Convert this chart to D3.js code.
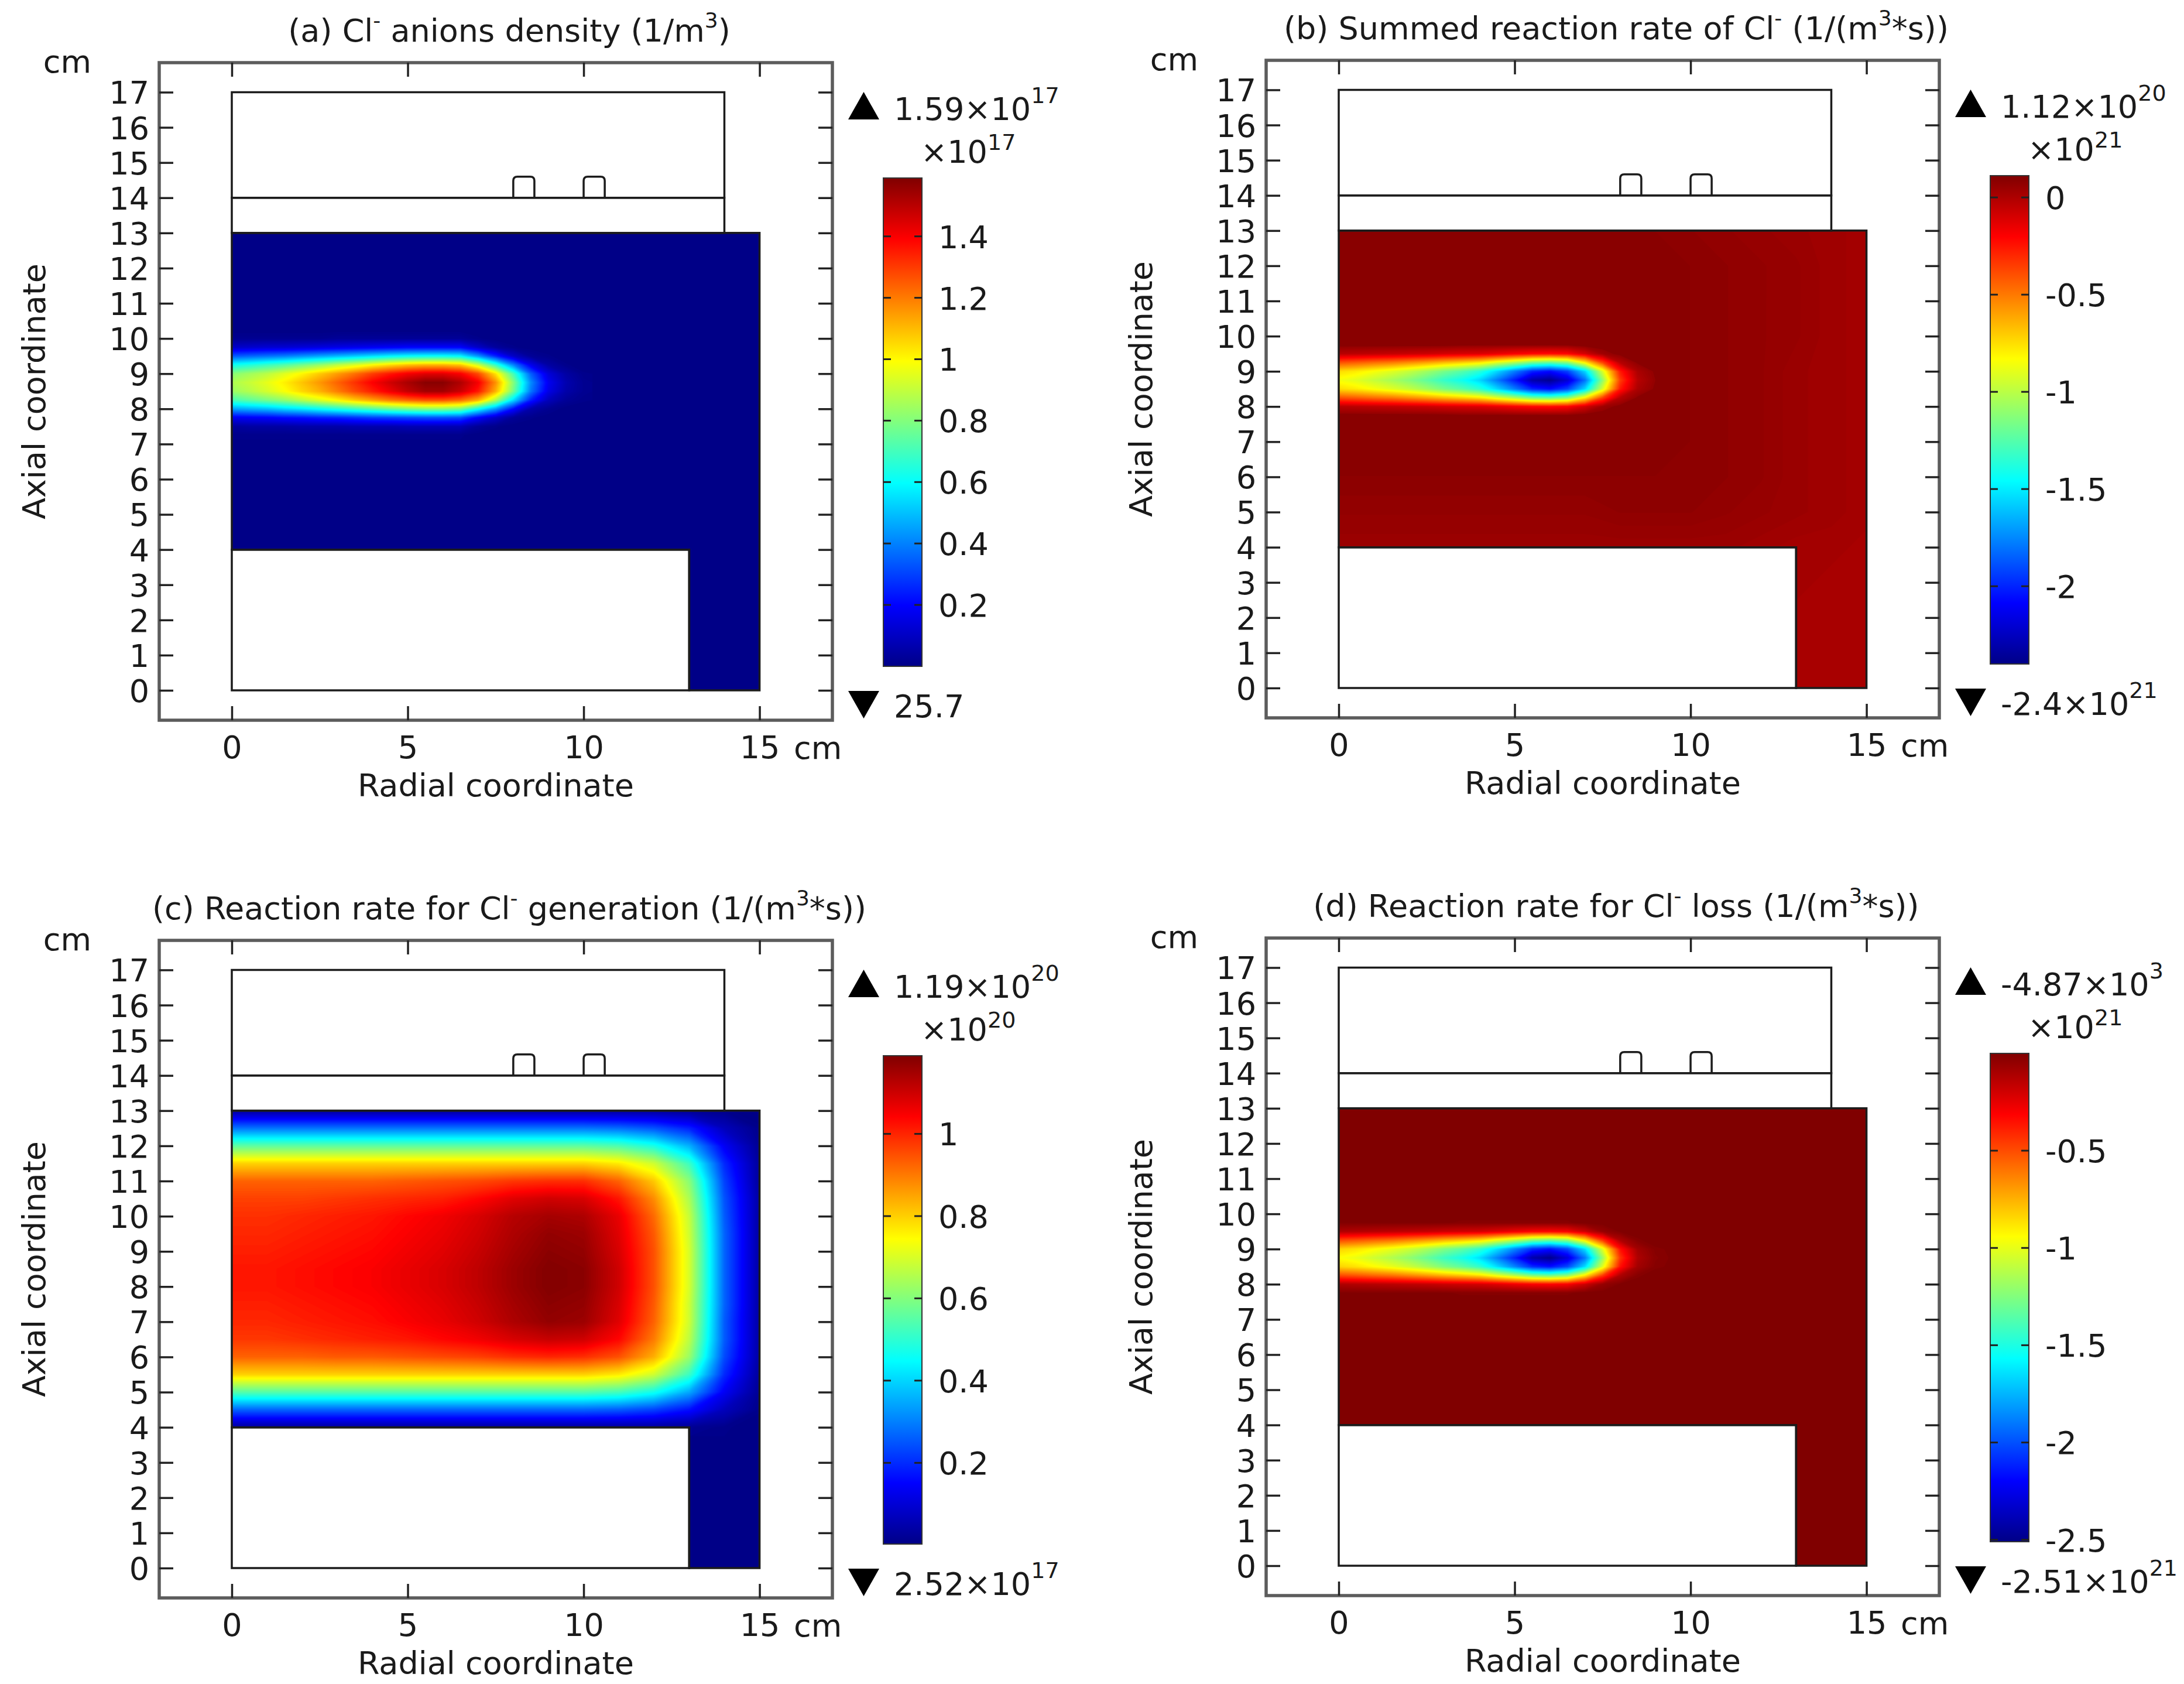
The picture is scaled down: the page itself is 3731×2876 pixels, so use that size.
<!DOCTYPE html>
<html>
<head>
<meta charset="utf-8">
<script src="https://cdn.jsdelivr.net/npm/d3@7"></script>
<style>
  body { margin: 0; background: #fff; }
  svg text { font-family: "DejaVu Sans", sans-serif; fill: #1a1a1a; }
</style>
</head>
<body>
<script>
// ---- values ----
var svgWidth = 3731;
var svgHeight = 2876;

// axes (cm)
var xTicks = [0, 5, 10, 15];
var yTicks = [0, 1, 2, 3, 4, 5, 6, 7, 8, 9, 10, 11, 12, 13, 14, 15, 16, 17];
var frameX = [-2.063, 17.07];
var frameY = [-0.849, 17.84];

// titles, split into [text, superscript?] pieces
var titles = [
  [["(a) Cl"], ["-", 1], [" anions density (1/m"], ["3", 1], [")"]],
  [["(b) Summed reaction rate of Cl"], ["-", 1], [" (1/(m"], ["3", 1], ["*s))"]],
  [["(c) Reaction rate for Cl"], ["-", 1], [" generation (1/(m"], ["3", 1], ["*s))"]],
  [["(d) Reaction rate for Cl"], ["-", 1], [" loss (1/(m"], ["3", 1], ["*s))"]]
];

// colour bars (values in units of the bar's multiplier)
var cbMin = [2.57e-16, -2.4, 0.00252, -2.51];
var cbMax = [1.59, 0.112, 1.19, -4.87e-18];
var cbTicks = [
  [1.4, 1.2, 1, 0.8, 0.6, 0.4, 0.2],
  [0, -0.5, -1, -1.5, -2],
  [1, 0.8, 0.6, 0.4, 0.2],
  [-0.5, -1, -1.5, -2, -2.5]
];
var cbMaxLabel = [[["1.59×10"], ["17", 1]], [["1.12×10"], ["20", 1]], [["1.19×10"], ["20", 1]], [["-4.87×10"], ["3", 1]]];
var cbUnitLabel = [[["×10"], ["17", 1]], [["×10"], ["21", 1]], [["×10"], ["20", 1]], [["×10"], ["21", 1]]];
var cbMinLabel = [[["25.7"]], [["-2.4×10"], ["21", 1]], [["2.52×10"], ["17", 1]], [["-2.51×10"], ["21", 1]]];

// reactor geometry (cm)
var outlineRects = [[0, 14, 14, 17], [0, 13, 14, 14], [0, 0, 13, 4]];
var bumps = [[8.0, 14, 8.6, 14.6], [10.0, 14, 10.6, 14.6]];
var plasmaDomain = [[0, 13], [15, 13], [15, 0], [13, 0], [13, 4], [0, 4]];

// field samples around the Cl- blob (a, b, d)
var blobX = [0, 0.5, 1, 1.5, 2, 2.5, 3, 3.5, 4, 4.5, 5, 5.5, 6, 6.5, 7, 7.5, 8, 8.5, 9, 9.5, 10];
var blobY = [10.25, 10, 9.75, 9.5, 9.25, 9, 8.75, 8.5, 8.25, 8, 7.75, 7.5, 7.25];

// (a) Cl- density, x1e17 1/m3
var anionGrid = [
  [0, 0, 0, 0, 0, 0, 0, 0, 0, 0, 0, 0, 0, 0, 0, 0, 0, 0, 0, 0, 0],
  [.02, .02, .02, .02, .02, .02, .03, .03, .03, .03, .03, .03, .03, .03, .01, 0, 0, 0, 0, 0, 0],
  [.11, .12, .13, .13, .14, .15, .16, .17, .18, .19, .20, .20, .20, .20, .11, .04, .01, 0, 0, 0, 0],
  [.34, .36, .38, .40, .43, .46, .49, .52, .55, .58, .60, .61, .61, .59, .44, .26, .11, .03, .01, 0, 0],
  [.62, .65, .69, .73, .78, .83, .89, .94, 1.00, 1.05, 1.09, 1.11, 1.11, 1.08, .92, .68, .41, .17, .05, .01, 0],
  [.81, .85, .89, .95, 1.01, 1.08, 1.15, 1.22, 1.30, 1.36, 1.41, 1.44, 1.44, 1.40, 1.28, 1.04, .71, .35, .14, .05, .01],
  [.87, .91, .96, 1.02, 1.09, 1.16, 1.24, 1.32, 1.40, 1.47, 1.53, 1.58, 1.58, 1.52, 1.41, 1.17, .81, .42, .18, .07, .02],
  [.84, .88, .93, .99, 1.06, 1.12, 1.20, 1.28, 1.35, 1.42, 1.49, 1.54, 1.54, 1.48, 1.36, 1.12, .78, .39, .16, .06, .02],
  [.71, .75, .79, .83, .89, .95, 1.01, 1.08, 1.14, 1.20, 1.24, 1.27, 1.27, 1.23, 1.12, .87, .55, .25, .09, .03, .01],
  [.46, .48, .50, .54, .57, .61, .65, .69, .73, .77, .80, .82, .82, .79, .62, .44, .22, .06, .02, 0, 0],
  [.18, .19, .20, .22, .23, .25, .26, .28, .30, .31, .32, .33, .33, .32, .20, .11, .03, .01, 0, 0, 0],
  [.04, .05, .05, .05, .06, .06, .06, .07, .07, .07, .08, .08, .08, .08, .03, .01, 0, 0, 0, 0, 0],
  [.01, .01, .01, .01, .01, .01, .01, .01, .01, .01, .01, .01, .01, .01, 0, 0, 0, 0, 0, 0, 0]
];

// (b) summed rate near the blob, x1e21
var summedGrid = [
  [.09, .09, .09, .09, .09, .09, .09, .09, .09, .09, .09, .09, .09, .09, .09, .09, .09, .09, .09, .09, .09],
  [.09, .09, .09, .09, .09, .09, .09, .09, .09, .09, .09, .09, .09, .09, .09, .09, .09, .09, .09, .09, .09],
  [.08, .08, .08, .08, .08, .08, .08, .07, .07, .07, .07, .07, .07, .07, .09, .09, .09, .09, .09, .09, .09],
  [-.03, -.04, -.05, -.06, -.07, -.08, -.10, -.11, -.12, -.15, -.19, -.22, -.23, -.21, -.10, .03, .08, .09, .09, .09, .09],
  [-.41, -.44, -.48, -.51, -.56, -.61, -.67, -.72, -.78, -.91, -1.03, -1.17, -1.21, -1.13, -.80, -.37, -.03, .07, .09, .09, .09],
  [-.75, -.79, -.85, -.91, -.98, -1.07, -1.17, -1.25, -1.36, -1.56, -1.78, -2.00, -2.07, -1.93, -1.56, -.93, -.27, 0, .07, .08, .09],
  [-.86, -.91, -.98, -1.05, -1.13, -1.23, -1.34, -1.43, -1.56, -1.79, -2.03, -2.31, -2.38, -2.21, -1.81, -1.11, -.36, -.03, .06, .08, .09],
  [-.75, -.79, -.85, -.91, -.98, -1.07, -1.17, -1.25, -1.36, -1.56, -1.78, -2.00, -2.07, -1.93, -1.56, -.93, -.27, 0, .07, .08, .09],
  [-.41, -.44, -.48, -.51, -.56, -.61, -.67, -.72, -.78, -.91, -1.03, -1.17, -1.21, -1.13, -.80, -.37, -.03, .07, .09, .09, .09],
  [-.03, -.04, -.05, -.06, -.07, -.08, -.10, -.11, -.12, -.15, -.19, -.22, -.23, -.21, -.10, .03, .08, .09, .09, .09, .09],
  [.08, .08, .08, .08, .08, .08, .08, .07, .07, .07, .07, .07, .07, .07, .09, .09, .09, .09, .09, .09, .09],
  [.09, .09, .09, .09, .09, .09, .09, .09, .09, .09, .09, .09, .09, .09, .09, .09, .09, .09, .09, .09, .09],
  [.09, .09, .09, .09, .09, .09, .09, .09, .09, .09, .09, .09, .09, .09, .09, .09, .09, .09, .09, .09, .09]
];

// (b) summed rate, background over the whole domain, x1e21
var fullX = [0, 1, 2, 3, 4, 5, 6, 7, 8, 9, 10, 11, 12, 13, 14, 15];
var summedBaseY = [13, 12, 11, 10, 9, 8, 7, 6, 5, 4, 3, 2, 1, 0];
var summedBaseGrid = [
  [.09, .09, .09, .09, .09, .09, .09, .09, .09, .09, .08, .07, .06, .05, .04, .03],
  [.10, .10, .10, .10, .10, .10, .10, .10, .10, .10, .09, .08, .07, .06, .04, .03],
  [.10, .10, .10, .10, .10, .10, .10, .10, .10, .10, .09, .08, .07, .06, .04, .03],
  [.10, .10, .10, .10, .10, .10, .10, .10, .10, .10, .09, .08, .07, .06, .04, .03],
  [.10, .10, .10, .10, .10, .10, .10, .10, .10, .10, .09, .08, .07, .05, .04, .03],
  [.10, .10, .10, .10, .10, .10, .10, .10, .10, .10, .09, .08, .07, .05, .04, .03],
  [.10, .10, .10, .10, .10, .10, .10, .10, .10, .10, .09, .08, .07, .05, .04, .03],
  [.09, .09, .09, .09, .09, .09, .09, .09, .09, .09, .09, .08, .07, .05, .04, .03],
  [.07, .07, .07, .07, .07, .07, .07, .07, .08, .08, .08, .07, .06, .05, .04, .03],
  [.05, .05, .05, .05, .05, .05, .05, .05, .05, .05, .05, .05, .04, .03, .03, .02],
  [.04, .04, .04, .04, .04, .04, .04, .04, .04, .04, .04, .04, .03, .03, .02, .02],
  [.04, .04, .04, .04, .04, .04, .04, .04, .04, .04, .04, .04, .03, .02, .02, .02],
  [.04, .04, .04, .04, .04, .04, .04, .04, .04, .04, .04, .04, .03, .02, .02, .02],
  [.04, .04, .04, .04, .04, .04, .04, .04, .04, .04, .04, .04, .03, .02, .02, .01]
];

// (c) generation rate, x1e20
var genY = [13, 12.5, 12, 11.5, 11, 10.5, 10, 9.5, 9, 8.5, 8, 7.5, 7, 6.5, 6, 5.5, 5, 4.5, 4];
var genGrid = [
  [.03, .03, .03, .03, .03, .03, .03, .03, .03, .03, .03, .03, .03, .02, .01, 0],
  [.29, .29, .29, .29, .29, .29, .29, .29, .29, .29, .29, .28, .25, .19, .07, .01],
  [.56, .56, .56, .56, .56, .56, .56, .56, .56, .56, .56, .54, .48, .36, .14, .02],
  [.80, .80, .80, .80, .80, .80, .80, .80, .80, .80, .80, .77, .69, .52, .20, .03],
  [.93, .93, .93, .93, .93, .94, .95, .96, .98, .99, .99, .93, .81, .61, .23, .03],
  [.97, .97, .97, .98, .99, 1.00, 1.01, 1.04, 1.08, 1.10, 1.09, 1.02, .88, .65, .25, .04],
  [.99, .99, 1.00, 1.01, 1.02, 1.04, 1.06, 1.09, 1.13, 1.15, 1.14, 1.07, .92, .68, .26, .04],
  [1.00, 1.00, 1.01, 1.02, 1.03, 1.05, 1.07, 1.10, 1.14, 1.17, 1.16, 1.08, .94, .69, .27, .04],
  [1.01, 1.01, 1.02, 1.03, 1.04, 1.06, 1.08, 1.11, 1.15, 1.18, 1.17, 1.09, .95, .70, .27, .04],
  [1.02, 1.02, 1.03, 1.04, 1.05, 1.07, 1.09, 1.12, 1.16, 1.19, 1.18, 1.10, .95, .70, .27, .04],
  [1.02, 1.02, 1.03, 1.04, 1.05, 1.07, 1.09, 1.12, 1.16, 1.19, 1.18, 1.10, .95, .70, .27, .04],
  [1.01, 1.01, 1.02, 1.03, 1.04, 1.06, 1.08, 1.11, 1.15, 1.18, 1.17, 1.09, .94, .69, .27, .04],
  [1.00, 1.00, 1.01, 1.02, 1.03, 1.05, 1.07, 1.10, 1.14, 1.17, 1.16, 1.08, .93, .69, .26, .04],
  [.98, .98, .99, 1.00, 1.01, 1.02, 1.04, 1.06, 1.09, 1.11, 1.10, 1.04, .90, .67, .26, .04],
  [.93, .93, .93, .94, .94, .95, .96, .97, .99, 1.00, .99, .95, .84, .63, .24, .04],
  [.80, .80, .80, .80, .80, .80, .80, .80, .80, .80, .80, .77, .69, .52, .20, .03],
  [.55, .55, .55, .55, .55, .55, .55, .55, .55, .55, .55, .53, .47, .35, .14, .02],
  [.27, .27, .27, .27, .27, .27, .27, .27, .27, .27, .27, .26, .23, .17, .07, .01],
  [.03, .03, .03, .03, .03, .03, .03, .03, .03, .03, .03, .03, .03, .02, .01, 0]
];

// (d) loss rate, x1e21
var lossGrid = [
  [0, 0, 0, 0, 0, 0, 0, 0, 0, 0, 0, 0, 0, 0, 0, 0, 0, 0, 0, 0, 0],
  [0, 0, 0, 0, 0, 0, 0, 0, 0, 0, 0, 0, 0, 0, 0, 0, 0, 0, 0, 0, 0],
  [-.01, -.01, -.01, -.01, -.01, -.01, -.01, -.02, -.02, -.02, -.02, -.02, -.02, -.02, 0, 0, 0, 0, 0, 0, 0],
  [-.12, -.13, -.14, -.15, -.16, -.17, -.19, -.20, -.21, -.24, -.28, -.31, -.32, -.30, -.19, -.06, -.01, 0, 0, 0, 0],
  [-.50, -.53, -.57, -.60, -.65, -.70, -.76, -.81, -.87, -1.00, -1.12, -1.26, -1.30, -1.22, -.89, -.46, -.12, -.02, 0, 0, 0],
  [-.84, -.88, -.94, -1.00, -1.07, -1.16, -1.26, -1.34, -1.45, -1.65, -1.87, -2.09, -2.16, -2.02, -1.65, -1.02, -.36, -.09, -.02, -.01, 0],
  [-.95, -1.00, -1.07, -1.14, -1.22, -1.32, -1.43, -1.52, -1.65, -1.88, -2.12, -2.42, -2.50, -2.30, -1.90, -1.20, -.45, -.12, -.03, -.01, 0],
  [-.84, -.88, -.94, -1.00, -1.07, -1.16, -1.26, -1.34, -1.45, -1.65, -1.87, -2.09, -2.16, -2.02, -1.65, -1.02, -.36, -.09, -.02, -.01, 0],
  [-.50, -.53, -.57, -.60, -.65, -.70, -.76, -.81, -.87, -1.00, -1.12, -1.26, -1.30, -1.22, -.89, -.46, -.12, -.02, 0, 0, 0],
  [-.12, -.13, -.14, -.15, -.16, -.17, -.19, -.20, -.21, -.24, -.28, -.31, -.32, -.30, -.19, -.06, -.01, 0, 0, 0, 0],
  [-.01, -.01, -.01, -.01, -.01, -.01, -.01, -.02, -.02, -.02, -.02, -.02, -.02, -.02, 0, 0, 0, 0, 0, 0, 0],
  [0, 0, 0, 0, 0, 0, 0, 0, 0, 0, 0, 0, 0, 0, 0, 0, 0, 0, 0, 0, 0],
  [0, 0, 0, 0, 0, 0, 0, 0, 0, 0, 0, 0, 0, 0, 0, 0, 0, 0, 0, 0, 0]
];

// which field layers make up each panel (dir -1: low-valued blob on top)
var fields = [
  { fill: 2.57e-16, layers: [{ grid: anionGrid, xs: blobX, ys: blobY, dir: 1, from: 0.008 }] },
  { fill: 0.012, layers: [
      { grid: summedBaseGrid, xs: fullX, ys: summedBaseY, dir: 1, from: 0.014 },
      { grid: summedGrid, xs: blobX, ys: blobY, dir: -1, from: 0.06 }] },
  { fill: 0.00252, layers: [{ grid: genGrid, xs: fullX, ys: genY, dir: 1, from: 0.008 }] },
  { fill: -4.87e-18, layers: [{ grid: lossGrid, xs: blobX, ys: blobY, dir: -1, from: -0.015 }] }
];

// ---- layout ----
var panelShift = [[0, 0], [1891, -4], [0, 1499], [1891, 1495]];
var frame = { left: 272, right: 1422, top: 107, bottom: 1230 };
var bar = { left: 1509, width: 66, top: 304, bottom: 1138 };
var jetOffsets = [0, 0.125, 0.375, 0.625, 0.875, 1];
var jetColors = ["#000087", "#0000ff", "#00ffff", "#ffff00", "#ff0000", "#800000"];

var svg = d3.select("body")
  .append("svg")
  .attr("width", svgWidth)
  .attr("height", svgHeight)
  .style("display", "block");

svg.append("rect").attr("width", svgWidth).attr("height", svgHeight).attr("fill", "#fff");

var x = d3.scaleLinear().domain(frameX).range([frame.left, frame.right]);
var y = d3.scaleLinear().domain(frameY).range([frame.bottom, frame.top]);
var line = d3.line().x(d => x(d[0])).y(d => y(d[1]));

var defs = svg.append("defs");
var grad = defs.append("linearGradient").attr("id", "jet")
  .attr("x1", 0).attr("y1", 1).attr("x2", 0).attr("y2", 0);
jetOffsets.forEach(function (o, k) {
  grad.append("stop").attr("offset", o).attr("stop-color", jetColors[k]);
});
// clip in panel coordinates (userSpaceOnUse), shared by all panels
defs.append("clipPath").attr("id", "domainClip")
  .append("path").attr("d", line(plasmaDomain) + "Z");

function jetScale(lo, hi) {
  return d3.scaleLinear()
    .domain(jetOffsets.map(o => lo + o * (hi - lo)))
    .range(jetColors)
    .clamp(true);
}

function richText(t, parts, small, rise) {
  var up = false;
  parts.forEach(function (p) {
    var ts = t.append("tspan").text(p[0]);
    if (p[1]) { ts.attr("font-size", small).attr("dy", -rise); up = true; }
    else if (up) { ts.attr("dy", rise); up = false; }
  });
  return t;
}

// filled contour bands of one sampled layer
function drawLayer(g, layer, color, lo, hi) {
  var nx = layer.xs.length, ny = layer.ys.length;
  var dx = layer.xs[1] - layer.xs[0], dy = layer.ys[1] - layer.ys[0];
  var to = layer.dir > 0 ? hi : lo;
  var n = Math.max(8, Math.round(Math.abs(to - layer.from) / ((hi - lo) / 220)));
  var thr = d3.range(n + 1).map(k => layer.dir * (layer.from + (to - layer.from) * k / n));
  var values = layer.grid.flat().map(v => layer.dir * v);
  var bands = d3.contours().size([nx, ny]).thresholds(thr)(values);
  var proj = d3.geoTransform({
    point: function (px, py) {
      this.stream.point(x(layer.xs[0] + (px - 0.5) * dx), y(layer.ys[0] + (py - 0.5) * dy));
    }
  });
  g.selectAll(null)
    .data(bands.filter(b => b.coordinates.length))
    .join("path")
    .attr("d", d3.geoPath(proj))
    .attr("fill", b => color(layer.dir * b.value));
}

function styleAxis(sel) {
  sel.attr("font-size", 54).attr("font-family", "DejaVu Sans");
  sel.select(".domain").remove();
  sel.selectAll("line").attr("stroke", "#222").attr("stroke-width", 3.5);
  sel.selectAll("text").attr("fill", "#1a1a1a");
}

function rectPath(r) {
  return line([[r[0], r[1]], [r[2], r[1]], [r[2], r[3]], [r[0], r[3]]]) + "Z";
}

function bumpPath(b) {
  var x1 = x(b[0]), x2 = x(b[2]), y1 = y(b[1]), y2 = y(b[3]), r = 7;
  return `M${x1},${y1}V${y2 + r}Q${x1},${y2} ${x1 + r},${y2}H${x2 - r}Q${x2},${y2} ${x2},${y2 + r}V${y1}`;
}

fields.forEach(function (f, i) {
  var panel = svg.append("g")
    .attr("transform", `translate(${panelShift[i][0]}, ${panelShift[i][1]})`);
  var color = jetScale(cbMin[i], cbMax[i]);

  // field
  var field = panel.append("g").attr("clip-path", "url(#domainClip)");
  field.append("path").attr("d", line(plasmaDomain) + "Z").attr("fill", color(f.fill));
  f.layers.forEach(function (layer) {
    drawLayer(field, layer, color, cbMin[i], cbMax[i]);
  });

  // geometry outlines
  var geo = panel.append("g").attr("fill", "none").attr("stroke", "#1c1c1c").attr("stroke-width", 3.5);
  outlineRects.forEach(r => geo.append("path").attr("d", rectPath(r)));
  geo.append("path").attr("d", line(plasmaDomain) + "Z");
  bumps.forEach(b => geo.append("path").attr("d", bumpPath(b)));

  // frame + ticks on all four sides
  panel.append("rect")
    .attr("x", frame.left).attr("y", frame.top)
    .attr("width", frame.right - frame.left).attr("height", frame.bottom - frame.top)
    .attr("fill", "none").attr("stroke", "#5c5c5c").attr("stroke-width", 5.5);

  panel.append("g").attr("transform", `translate(0, ${frame.bottom})`)
    .call(d3.axisBottom(x).tickValues(xTicks).tickSize(-24).tickPadding(27).tickFormat(d3.format("d")))
    .call(styleAxis);
  panel.append("g").attr("transform", `translate(0, ${frame.top})`)
    .call(d3.axisTop(x).tickValues(xTicks).tickSize(-24).tickFormat(""))
    .call(styleAxis);
  panel.append("g").attr("transform", `translate(${frame.left}, 0)`)
    .call(d3.axisLeft(y).tickValues(yTicks).tickSize(-24).tickPadding(17).tickFormat(d3.format("d")))
    .call(styleAxis)
    .selectAll("text").attr("dy", "0.36em");
  panel.append("g").attr("transform", `translate(${frame.right}, 0)`)
    .call(d3.axisRight(y).tickValues(yTicks).tickSize(-24).tickFormat(""))
    .call(styleAxis);

  // unit and axis labels
  panel.append("text").attr("x", 1356).attr("y", 1296).attr("font-size", 54).text("cm");
  panel.append("text").attr("x", 115).attr("y", 124).attr("font-size", 54)
    .attr("text-anchor", "middle").text("cm");
  panel.append("text").attr("x", (frame.left + frame.right) / 2).attr("y", 1360)
    .attr("font-size", 54).attr("text-anchor", "middle").text("Radial coordinate");
  panel.append("text").attr("transform", `translate(77, ${(frame.top + frame.bottom) / 2}) rotate(-90)`)
    .attr("font-size", 54).attr("text-anchor", "middle").text("Axial coordinate");

  // title
  richText(panel.append("text")
    .attr("x", (frame.left + frame.right) / 2 + 23).attr("y", 71)
    .attr("font-size", 54).attr("text-anchor", "middle"), titles[i], 36, 24);

  // colour bar
  var cb = d3.scaleLinear().domain([cbMin[i], cbMax[i]]).range([bar.bottom, bar.top]);
  panel.append("rect")
    .attr("x", bar.left).attr("y", bar.top)
    .attr("width", bar.width).attr("height", bar.bottom - bar.top)
    .attr("fill", "url(#jet)").attr("stroke", "#333").attr("stroke-width", 2);
  var marks = panel.append("g").attr("stroke", "#222").attr("stroke-width", 3);
  cbTicks[i].forEach(function (t) {
    marks.append("line").attr("x1", bar.left).attr("x2", bar.left + 13).attr("y1", cb(t)).attr("y2", cb(t));
    marks.append("line").attr("x1", bar.left + bar.width - 13).attr("x2", bar.left + bar.width).attr("y1", cb(t)).attr("y2", cb(t));
  });
  panel.append("g").attr("transform", `translate(${bar.left + bar.width}, 0)`)
    .call(d3.axisRight(cb).tickValues(cbTicks[i]).tickSize(0).tickPadding(28).tickFormat(d => String(d)))
    .call(styleAxis)
    .selectAll("text").attr("dy", "0.36em");

  // max / min markers
  var tri = d3.line();
  panel.append("path").attr("fill", "#000")
    .attr("d", tri([[bar.left - 60, 204], [bar.left - 7, 204], [bar.left - 33.5, 157]]) + "Z");
  panel.append("path").attr("fill", "#000")
    .attr("d", tri([[bar.left - 60, 1180], [bar.left - 7, 1180], [bar.left - 33.5, 1227]]) + "Z");
  richText(panel.append("text").attr("x", bar.left + 18).attr("y", 205).attr("font-size", 54), cbMaxLabel[i], 38, 29);
  richText(panel.append("text").attr("x", bar.left + 64).attr("y", 278).attr("font-size", 54), cbUnitLabel[i], 38, 22);
  richText(panel.append("text").attr("x", bar.left + 18).attr("y", 1225).attr("font-size", 54), cbMinLabel[i], 38, 29);
});
</script>
</body>
</html>
